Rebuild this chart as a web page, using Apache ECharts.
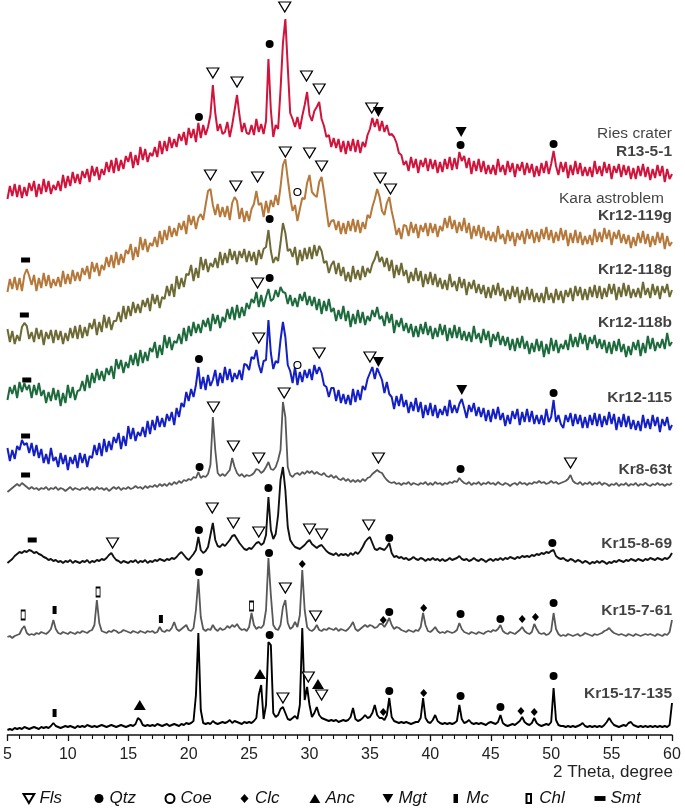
<!DOCTYPE html>
<html><head><meta charset="utf-8">
<script src="https://cdn.jsdelivr.net/npm/echarts@6/dist/echarts.min.js"></script>
<style>html,body{margin:0;padding:0;background:#fff}#c{width:685px;height:812px}</style>
</head><body><div id="c"></div>
<script>
// 2-theta sampling grid: 5.0 .. 60.0 step 0.2 (five values = one degree)
const X_START = 5, X_STEP = 0.2;
const TICK_MIN = 5, TICK_MAX = 60, TICK_STEP = 5;

const R13_5_1 = [
536,549,539,551,538, 550,537,548,539,552, 544,554,538,551,541, 556,543,554,541,550,
545,554,544,560,547, 559,549,563,552,561, 551,564,557,566,553, 569,559,568,555,566,
560,573,563,575,562, 577,564,575,566,579, 573,583,567,580,570, 588,575,586,573,582,
579,588,578,594,581, 594,584,598,587,596, 588,601,594,603,590, 607,597,606,593,612,
597,610,600,608,620, 650,622,604,611,601, 603,613,598,610,625, 640,620,603,612,602,
601,610,600,616,603, 611,601,614,676,625, 598,610,606,645,692, 716,668,622,616,608,
618,606,619,630,643, 620,614,624,628,633, 616,609,598,600,588, 597,587,596,583,594,
581,594,584,596,583, 595,582,593,588,600, 606,617,608,616,604, 614,603,610,600,601,
598,592,582,580,570, 574,564,578,567,576, 562,575,568,577,564, 576,566,575,562,573,
563,576,566,578,565, 577,566,583,574,579, 567,577,561,574,564, 576,563,574,561,570,
561,570,560,576,563, 570,560,574,563,572, 558,571,564,573,560, 572,562,571,558,569,
559,572,562,574,561, 571,584,569,560,573, 563,573,557,570,560, 574,561,572,559,568,
559,568,558,574,561, 569,559,573,562,571, 556,569,562,571,558, 570,560,569,556,567,
556,569,559,571,558, 568,555,566,557,570, 559,569,553,566,556,
561];

const Kr12_119g = [
443,456,446,458,445, 457,444,460,466,459, 450,460,444,457,447, 462,449,460,447,456,
449,458,448,464,451, 461,451,465,454,463, 454,467,460,469,456, 473,463,472,459,470,
465,478,468,480,467, 483,470,481,472,485, 481,491,475,488,478, 498,485,496,483,492,
489,498,488,504,491, 505,495,509,498,507, 499,512,505,514,501, 520,510,519,506,517,
521,515,530,544,546, 530,520,531,518,528, 518,529,515,532,538, 534,516,527,513,524,
514,526,531,544,530, 532,518,534,522,535, 528,540,530,548,570, 576,556,538,524,530,
514,526,537,536,552, 560,543,540,538,553, 558,543,525,508,514, 515,505,514,501,512,
501,514,504,516,503, 515,502,513,506,520, 517,528,536,546,538, 524,520,532,538,524,
513,500,507,496,510, 509,499,513,502,511, 497,510,503,512,499, 512,502,511,498,509,
504,517,507,519,506, 515,502,513,504,517, 502,512,496,509,499, 510,497,508,495,504,
494,503,493,509,496, 501,491,505,494,503, 489,502,495,504,491, 506,496,505,492,503,
493,506,496,508,495, 505,492,503,494,507, 495,505,489,502,492, 505,492,503,490,499,
491,500,490,506,493, 503,493,507,496,505, 490,503,496,505,492, 501,491,500,487,498,
489,502,492,504,491, 501,488,499,490,503, 492,502,486,499,489,
493];

const Kr12_118g = [
406,393,404,391,400, 394,408,412,409,396, 403,393,407,396,405, 390,403,396,405,392,
405,395,404,391,402, 394,407,397,409,396, 410,397,408,399,412, 406,416,400,413,403,
420,407,418,405,414, 414,423,413,429,416, 429,419,433,422,431, 422,435,428,437,424,
441,431,440,427,438, 436,449,439,451,438, 459,446,457,448,461, 460,470,454,467,457,
478,465,476,463,472, 468,477,467,483,470, 482,472,486,475,484, 471,484,477,486,473,
484,474,483,470,485, 476,486,488,505,484, 472,478,474,492,512, 502,484,486,478,488,
470,485,474,487,476, 488,476,490,479,489, 484,472,474,462,470, 474,461,472,459,468,
454,463,453,469,456, 465,455,469,458,467, 462,471,476,484,473, 478,468,477,464,475,
457,470,460,472,459, 465,452,463,454,467, 454,464,448,461,451, 463,450,461,448,457,
446,455,445,461,448, 454,444,458,447,456, 440,453,446,455,442, 451,441,450,437,448,
437,450,440,452,439, 447,434,445,436,449, 438,448,432,445,435, 448,435,446,433,442,
433,442,432,448,435, 442,432,446,435,444, 432,445,438,447,434, 449,439,448,435,446,
435,448,438,450,437, 449,436,447,438,451, 441,451,435,448,438, 452,439,450,437,446,
438,447,437,453,440, 447,437,451,440,449, 436,449,442,451,438,
445];

const Kr12_118b = [
335,348,341,350,337, 353,343,352,345,350, 337,350,340,352,339, 345,332,343,334,347,
335,345,329,342,332, 350,337,348,335,344, 345,354,344,360,347, 362,352,366,355,364,
354,367,360,369,356, 376,366,375,362,373, 367,380,370,382,369, 385,372,383,374,387,
383,393,377,390,380, 400,387,398,385,394, 392,401,391,407,394, 409,399,413,402,411,
402,415,408,417,404, 421,411,420,407,418, 413,426,416,428,415, 430,417,428,419,432,
426,436,432,443,428, 440,428,438,446,434, 436,445,438,448,443, 442,431,440,429,437,
428,441,434,443,430, 439,429,438,425,436, 421,434,424,436,423, 427,414,425,416,429,
414,424,408,421,411, 425,412,423,410,419, 414,425,418,428,416, 419,409,423,412,421,
402,415,408,417,404, 412,402,411,398,409, 398,411,401,413,400, 409,396,407,398,411,
400,410,394,407,397, 410,397,408,395,404, 394,403,393,409,396, 402,392,406,395,404,
388,401,394,403,390, 399,389,398,385,396, 384,397,387,399,386, 394,381,392,383,396,
384,394,378,391,381, 397,384,395,382,391, 386,395,385,401,388, 398,388,402,391,400,
385,398,391,400,387, 396,386,395,382,393, 381,394,384,396,383, 391,378,389,380,393,
385,395,379,392,382, 399,386,397,384,393, 387,396,386,402,389,
393];

const Kr12_115 = [
287,274,285,276,289, 285,295,290,292,282, 292,279,290,277,286, 272,281,271,287,274,
278,268,282,271,280, 265,278,271,280,267, 282,272,281,268,279, 277,290,280,292,279,
296,283,294,285,298, 292,302,286,299,289, 309,296,307,294,303, 299,308,298,314,301,
315,305,319,308,317, 308,321,314,323,310, 327,318,332,328,343, 334,346,338,350,368,
346,358,345,360,349, 355,365,349,362,352, 368,355,366,353,362, 356,365,355,371,370,
365,378,376,385,370, 362,374,375,415,382, 366,374,372,395,413, 398,370,364,352,368,
350,363,353,365,357, 366,355,370,361,368, 362,350,348,338,347, 347,334,345,332,341,
331,340,330,346,333, 345,335,349,345,356, 362,368,356,367,361, 355,342,353,341,338,
326,339,329,341,328, 335,322,333,324,337, 323,333,317,330,320, 332,319,330,317,326,
320,329,319,335,322, 330,322,331,336,327, 317,330,323,332,319, 328,318,327,314,325,
313,326,316,328,315, 322,309,320,311,324, 316,326,310,323,313, 326,313,324,311,320,
311,320,310,326,313, 318,335,313,320,311, 307,320,313,322,309, 321,311,320,307,318,
307,320,310,322,309, 321,308,319,310,323, 311,321,305,318,308, 321,308,319,306,315,
305,314,304,320,307, 316,306,320,309,318, 303,316,309,318,305,
310];

const Kr8_63t = [
243,245,247,249,251, 249,252,250,248,246, 248,246,247,245,247, 246,248,245,247,246,
248,245,247,246,244, 246,248,245,247,246, 245,247,246,248,245, 247,245,248,246,247,
245,247,244,246,248, 246,248,245,247,246, 248,246,247,249,247, 248,246,249,247,249,
248,250,248,251,249, 251,249,252,250,253, 251,254,252,255,254, 256,255,258,257,263,
257,259,258,261,270, 318,285,262,259,261, 259,262,265,277,268, 262,259,261,258,260,
259,260,262,266,265, 262,264,268,273,266, 265,268,275,285,333, 318,268,260,258,261,
262,260,263,261,264, 262,264,261,263,261, 260,262,259,258,260, 257,259,256,255,257,
254,256,253,255,253, 255,253,256,254,257, 258,261,263,265,263, 262,258,255,253,252,
253,251,252,250,252, 251,253,250,252,251, 250,252,251,253,250, 252,250,253,251,252,
250,252,251,253,252, 254,253,257,254,252, 251,253,250,252,251, 253,250,252,251,253,
251,252,250,253,251, 250,252,251,249,251, 252,250,253,251,252, 250,252,251,253,252,
254,252,253,251,252, 254,252,253,251,252, 253,254,256,260,254, 252,251,253,250,252,
251,253,250,252,251, 253,250,252,251,249, 251,250,252,249,251, 250,252,249,251,250,
252,249,251,250,252, 250,249,251,250,252, 250,251,249,251,250,
252];

const Kr15_8_69 = [
172,174,176,179,181, 183,182,184,183,185, 184,182,183,181,180, 178,177,175,176,174,
175,173,174,172,174, 173,175,172,174,173, 172,174,173,175,172, 174,173,175,174,176,
175,177,180,182,178, 175,174,172,174,173, 172,174,173,175,172, 174,173,175,172,174,
173,175,174,176,175, 174,176,175,177,176, 178,181,183,180,177, 175,178,181,185,198,
185,182,184,188,200, 212,195,189,188,191, 189,192,195,199,200, 196,192,189,186,185,
187,186,189,192,193, 190,192,200,238,205, 196,201,220,255,268, 245,208,195,191,188,
187,186,188,190,193, 195,191,189,187,189, 190,187,184,182,181, 180,182,179,181,180,
181,179,182,180,183, 181,184,188,193,196, 198,192,186,185,187, 186,185,188,192,182,
178,179,177,178,176, 177,175,176,178,176, 175,177,176,174,176, 175,177,175,176,174,
176,174,175,177,175, 176,177,179,176,175, 176,174,175,177,175, 174,176,175,173,175,
176,174,176,175,177, 175,177,176,178,177, 176,178,177,179,178, 179,178,180,179,181,
180,182,181,183,182, 184,185,179,177,176, 177,175,174,176,175, 173,175,174,172,174,
173,171,173,172,174, 172,174,173,171,173, 172,174,173,175,174, 173,175,174,176,175,
174,176,175,174,176, 175,177,176,175,177, 176,175,177,176,178,
182];

const Kr15_7_61 = [
98,99,97,99,100, 101,106,109,102,100, 101,100,102,101,103, 102,101,103,106,115,
106,102,101,103,102, 101,103,102,101,103, 102,104,103,102,104, 105,110,135,112,104,
103,102,104,103,105, 104,102,103,105,104, 103,102,104,103,102, 104,103,102,104,103,
104,102,103,108,104, 103,105,104,107,113, 106,104,106,108,110, 105,104,107,125,156,
118,106,104,106,105, 110,106,104,107,105, 106,109,107,110,108, 111,107,105,106,104,
108,122,110,106,108, 107,110,125,177,140, 110,106,105,110,128, 135,112,106,108,113,
108,120,165,125,108, 105,104,106,110,105, 104,106,105,107,106, 105,107,104,106,105,
104,106,109,113,106, 104,106,108,110,108, 110,109,107,108,111, 111,108,112,117,110,
106,108,107,105,104, 103,105,104,103,105, 104,108,122,110,104, 103,105,108,104,102,
103,102,104,103,102, 103,105,112,106,103, 102,101,103,102,101, 103,102,101,103,104,
103,105,104,106,110, 104,102,101,103,102, 101,103,105,108,104, 102,101,103,111,106,
102,101,102,100,101, 104,122,106,101,99, 100,99,101,100,99, 100,101,99,100,102,
101,100,99,101,100, 101,102,104,105,107, 104,102,101,100,101, 100,99,101,100,99,
101,100,99,100,101, 100,101,100,99,101, 100,99,101,100,103,
115];

const Kr15_17_135 = [
5,6,5,7,6, 7,6,8,7,6, 7,8,7,6,8, 7,8,7,9,12,
9,8,7,8,9, 8,9,8,7,9, 8,9,8,10,9, 8,9,8,9,10,
9,8,9,10,9, 8,9,10,9,8, 9,10,9,11,17, 15,10,9,10,9,
10,9,11,10,9, 10,11,9,10,11, 10,9,11,10,12, 11,12,14,40,102,
25,12,11,12,11, 14,12,11,12,13, 12,13,15,12,14, 13,12,11,13,12,
13,12,14,17,40, 50,16,30,93,90, 22,18,20,26,28, 22,16,15,17,19,
16,30,107,35,48, 30,18,22,28,20, 17,16,15,14,15, 14,15,13,14,15,
14,15,18,27,16, 14,15,17,20,17, 18,22,30,20,17, 17,15,20,37,18,
14,13,12,13,12, 13,12,11,12,13, 13,17,37,17,13, 12,15,20,14,12,
11,12,11,12,11, 12,14,30,16,12, 13,15,12,11,12, 11,12,11,10,12,
13,12,11,13,20, 12,10,9,10,11, 10,12,14,18,13, 11,10,12,17,12,
10,9,10,11,10, 13,47,15,10,9, 9,8,9,8,9, 8,9,10,12,9,
8,9,8,9,8, 9,8,10,13,17, 13,10,9,8,9, 10,9,12,13,10,
9,8,9,8,9, 8,9,8,9,8, 9,8,9,8,10,
32];

// phase markers [2theta, height]
const FLS_PTS = [[22.0,662],[24.0,653],[27.95,728],[29.75,659],[30.8,646],[35.15,627],
 [21.8,560],[23.9,549],[25.7,558],[28.0,583],[30.0,582],[31.0,569],[35.85,557],[36.7,546],
 [25.7,452],[25.8,397],[30.8,382],[35.0,378],
 [22.05,328],[23.7,289],[25.8,277],[27.9,342],[35.7,277],[51.6,272],
 [13.7,192],[21.95,227],[23.7,212],[25.8,203],[30.0,206],[31.0,201],[34.9,210],
 [28.0,147],[30.5,119],[27.8,37],[29.9,58],[31.0,40]];
const QTZ_PTS = [[20.85,618],[26.7,691],[42.5,590],[50.2,591],[26.7,516],[26.7,457],
 [20.85,376],[50.2,342],[20.9,268],[42.5,266],[20.85,205],[26.6,247],[36.6,197],[50.1,192],
 [20.85,163],[26.65,182],[36.6,123],[42.5,121],[45.8,116],[50.2,132],
 [26.7,100],[36.6,44],[42.5,39],[45.8,28],[50.2,59]];
const COE_PTS = [[29.0,543],[29.0,370]];
const CLC_PTS = [[29.4,171],[36.1,115],[39.45,127],[47.6,116],[48.7,118],
 [36.1,23],[39.45,42],[47.5,24],[48.6,23]];
const ANC_PTS = [[15.95,30],[25.9,61],[30.7,51]];
const MGT_PTS = [[35.7,623],[42.55,603],[35.7,373],[42.6,345]];
const MC_PTS = [[8.9,125],[17.7,116],[8.9,22]];
const CHL_PTS = [[6.3,120],[12.5,143],[25.2,129]];
const SMT_PTS = [[6.5,475],[6.4,420],[6.6,355],[6.5,299],[6.5,260],[7.05,195]];

// sample labels
const LABEL_TEXT = ['Ries crater','R13-5-1','Kara astroblem','Kr12-119g','Kr12-118g','Kr12-118b','Kr12-115','Kr8-63t','Kr15-8-69','Kr15-7-61','Kr15-17-135'];
const LABEL_X = [60,60,59.34,60,60,60,60,60,60,60,60];
const LABEL_Y = [601,583,536,519,465,412,337,265,191,124,41];
const LABEL_BOLD = [false,true,false,true,true,true,true,true,true,true,true];
const BRACKET = [[60.42,540],[60.83,540],[60.83,8],[60.42,8]];
const LEGEND_LEFT = [22.5, 94.5, 164.5, 240.5, 309.5, 382.5, 453.5, 525.5, 594.5];

const FONT = 'Liberation Sans, Arial, Helvetica, sans-serif';
function toXY(arr){ return arr.map((v,i)=>[+(X_START+i*X_STEP).toFixed(2), v]); }

const traces = [
 {name:'R13-5-1', data:R13_5_1, color:'#d0143c', w:2},
 {name:'Kr12-119g', data:Kr12_119g, color:'#b5793c', w:2},
 {name:'Kr12-118g', data:Kr12_118g, color:'#6d6a36', w:2},
 {name:'Kr12-118b', data:Kr12_118b, color:'#1d6b3c', w:2},
 {name:'Kr12-115', data:Kr12_115, color:'#1420c4', w:2},
 {name:'Kr8-63t', data:Kr8_63t, color:'#585858', w:1.8},
 {name:'Kr15-8-69', data:Kr15_8_69, color:'#111111', w:1.9},
 {name:'Kr15-7-61', data:Kr15_7_61, color:'#585858', w:1.8},
 {name:'Kr15-17-135', data:Kr15_17_135, color:'#000000', w:1.9}
];

const triDown = 'path://M0,0L12,0L6,10Z';
const triUp = 'path://M6,0L12,10L0,10Z';
const vRect = 'path://M0,0L4,0L4,8L0,8Z';
const hRect = 'path://M0,0L9,0L9,4L0,4Z';
const diam = 'path://M4,0L8,4.5L4,9L0,4.5Z';

const markers = [
 {name:'Fls', data:FLS_PTS, symbol:triDown, size:[12,10], fill:'#fff', stroke:'#000'},
 {name:'Qtz', data:QTZ_PTS, symbol:'circle', size:8, fill:'#000'},
 {name:'Coe', data:COE_PTS, symbol:'circle', size:7, fill:'#fff', stroke:'#000'},
 {name:'Clc', data:CLC_PTS, symbol:diam, size:[7,8], fill:'#000'},
 {name:'Anc', data:ANC_PTS, symbol:triUp, size:[12,10], fill:'#000'},
 {name:'Mgt', data:MGT_PTS, symbol:triDown, size:[11,10], fill:'#000'},
 {name:'Mc', data:MC_PTS, symbol:vRect, size:[4,8], fill:'#000'},
 {name:'Chl', data:CHL_PTS, symbol:vRect, size:[4,9], fill:'#fff', stroke:'#000'},
 {name:'Smt', data:SMT_PTS, symbol:hRect, size:[9,5], fill:'#000'}
];

const series = [];
traces.forEach(t => series.push({
  type:'line', name:t.name, data:toXY(t.data), symbol:'none', showSymbol:false,
  lineStyle:{color:t.color, width:t.w}, itemStyle:{color:t.color}, z:2, silent:true
}));
markers.forEach(m => series.push({
  type:'scatter', name:m.name, data:m.data, symbol:m.symbol, symbolSize:m.size,
  itemStyle:{color:m.fill, borderColor:m.stroke || m.fill, borderWidth:m.stroke?1.2:0, opacity:1},
  z:5, silent:true
}));
series.push({
  type:'scatter', name:'labels', symbolSize:0, z:6, silent:true,
  data: LABEL_TEXT.map((s,i)=>({value:[LABEL_X[i], LABEL_Y[i]], name:s,
     label:{fontWeight: LABEL_BOLD[i]?'bold':'normal'}})),
  label:{show:true, position:'left', distance:0, formatter:p=>p.name,
     fontSize:15.5, color:'#111', fontFamily:FONT}
});
series.push({
  type:'line', name:'bracket', data:BRACKET, symbol:'none', clip:false, silent:true,
  lineStyle:{color:'#333', width:1}, z:1
});

const legends = markers.map((m,i)=>({
  data:[m.name], left:LEGEND_LEFT[i], top:790, padding:0,
  itemWidth:11, itemHeight:9, selectedMode:false,
  textStyle:{fontSize:17, fontStyle:'italic', color:'#111', fontFamily:FONT}
}));

const chart = echarts.init(document.getElementById('c'), null, {renderer:'canvas'});
chart.setOption({
  animation:false,
  backgroundColor:'#fff',
  textStyle:{fontFamily:FONT},
  grid:{left:7, right:13, top:0, bottom:77, containLabel:false},
  title:{text:'2 Theta, degree', right:12, top:764, padding:0,
     textStyle:{fontSize:17, fontWeight:'normal', color:'#222', fontFamily:FONT}},
  legend:legends,
  xAxis:{
    type:'value', min:TICK_MIN, max:TICK_MAX, interval:TICK_STEP,
    axisLine:{show:true, lineStyle:{color:'#111', width:1.5}},
    axisTick:{show:true, length:6, lineStyle:{color:'#111', width:1.3}},
    minorTick:{show:true, splitNumber:5, length:4, lineStyle:{color:'#111', width:1.1}},
    splitLine:{show:false}, minorSplitLine:{show:false},
    axisLabel:{fontSize:16, color:'#222', margin:12, fontFamily:FONT, showMinLabel:true, showMaxLabel:true}
  },
  yAxis:{type:'value', min:0, max:735, show:false, splitLine:{show:false}},
  series:series
});
</script>
</body></html>
